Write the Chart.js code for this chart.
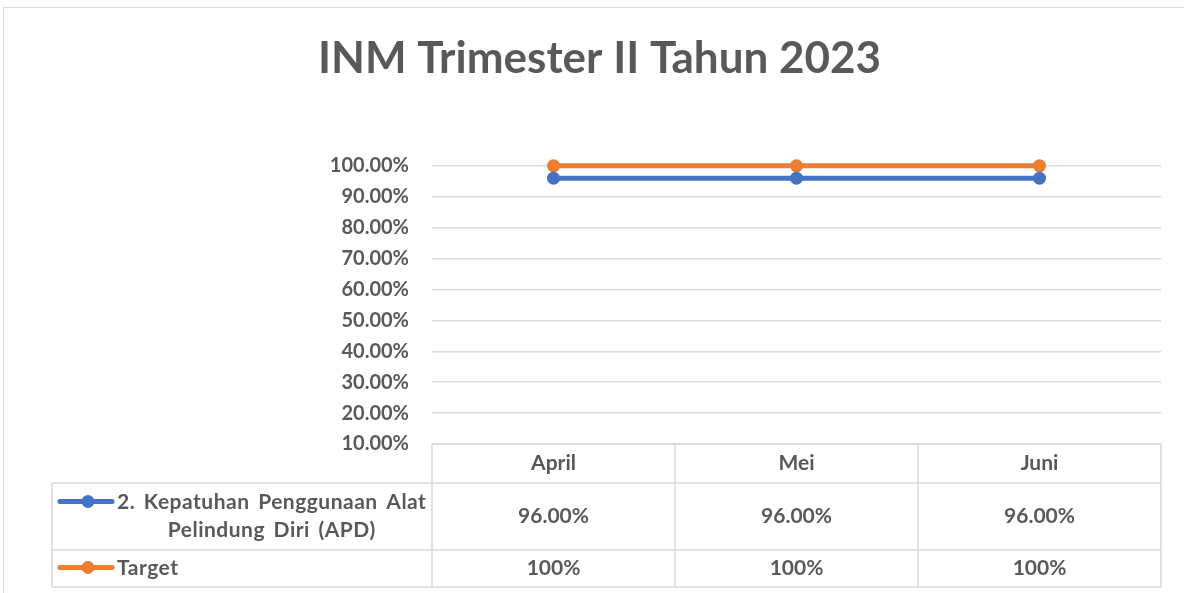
<!DOCTYPE html>
<html>
<head>
<meta charset="utf-8">
<title>INM Trimester II Tahun 2023</title>
<script src="https://cdn.jsdelivr.net/npm/chart.js@4.4.0/dist/chart.umd.min.js"></script>
<style>
    html, body { margin: 0; padding: 0; background: #fff; overflow: hidden; }
    #wrap { position: relative; width: 1184px; height: 593px; }
    #frame { position: absolute; left: 3px; top: 7px; width: 1300px; height: 700px; border: 1px solid #d9d9d9; }
    #chart { position: absolute; left: 0; top: 0; }
</style>
</head>
<body>
<div id="wrap">
    <div id="frame"></div>
    <canvas id="chart" width="1184" height="593"></canvas>
</div>
<script>
const chartTitle = 'INM Trimester II Tahun 2023';
const months = ['April', 'Mei', 'Juni'];
const seriesNames = ['2. Kepatuhan Penggunaan Alat Pelindung Diri (APD)', 'Target'];
const apdValues = [0.96, 0.96, 0.96];
const targetValues = [1, 1, 1];
const valueDecimals = [2, 0];
const seriesColors = ['#4472C4', '#ED7D31'];
const yMin = 0.1, yMax = 1.0, yStep = 0.1;

const textColor = '#595959';
const lineColor = '#d9d9d9';
const fontFamily = 'Lato, "Liberation Sans", sans-serif';

function pct(v, d) {
    return (v * 100).toFixed(d) + '%';
}

function wrapText(ctx, text, maxWidth) {
    const words = text.split(' ');
    const lines = [];
    let line = '';
    words.forEach(function (w) {
        const test = line ? line + ' ' + w : w;
        if (ctx.measureText(test).width > maxWidth && line) {
            lines.push(line);
            line = w;
        } else {
            line = test;
        }
    });
    if (line) lines.push(line);
    return lines;
}

// data table under the plot, Excel style
const dataTable = {
    id: 'dataTable',
    afterDraw: function (chart) {
        const ctx = chart.ctx;
        const area = chart.chartArea;
        const xs = chart.scales.x;
        const n = months.length;
        const colW = (area.right - area.left) / n;
        const tableLeft = 52;
        const rowTops = [area.bottom, area.bottom + 39, area.bottom + 106, area.bottom + 143];
        const allSeries = [apdValues, targetValues];

        ctx.save();
        ctx.strokeStyle = lineColor;
        ctx.lineWidth = 1.5;
        ctx.beginPath();
        ctx.moveTo(area.left, rowTops[0]); ctx.lineTo(area.right, rowTops[0]);
        for (let r = 1; r < rowTops.length; r++) {
            ctx.moveTo(tableLeft, rowTops[r]); ctx.lineTo(area.right, rowTops[r]);
        }
        ctx.moveTo(tableLeft, rowTops[1]); ctx.lineTo(tableLeft, rowTops[3]);
        for (let i = 0; i <= n; i++) {
            const x = area.left + i * colW;
            ctx.moveTo(x, rowTops[0]); ctx.lineTo(x, rowTops[3]);
        }
        ctx.stroke();

        ctx.fillStyle = textColor;
        ctx.font = 'bold 21px ' + fontFamily;
        ctx.textBaseline = 'middle';
        ctx.textAlign = 'center';
        months.forEach(function (m, i) {
            ctx.fillText(m, xs.getPixelForValue(i), (rowTops[0] + rowTops[1]) / 2);
        });

        allSeries.forEach(function (vals, s) {
            const top = rowTops[s + 1], bottom = rowTops[s + 2];
            const mid = (top + bottom) / 2;
            ctx.fillStyle = textColor;
            ctx.textAlign = 'center';
            vals.forEach(function (v, i) {
                ctx.fillText(pct(v, valueDecimals[s]), xs.getPixelForValue(i), mid);
            });

            // series name, a bit looser like the Calibri original
            ctx.save();
            ctx.letterSpacing = '0.5px';
            ctx.wordSpacing = '3px';
            const lines = wrapText(ctx, seriesNames[s], 320);
            const lh = 28;
            const firstY = mid - (lines.length - 1) * lh / 2;
            const textX = 117;
            if (lines.length > 1) {
                const w = Math.max.apply(null, lines.map(function (l) { return ctx.measureText(l).width; }));
                ctx.textAlign = 'center';
                lines.forEach(function (l, k) { ctx.fillText(l, textX + w / 2, firstY + k * lh); });
            } else {
                ctx.textAlign = 'left';
                ctx.fillText(lines[0], textX, firstY);
            }
            ctx.restore();

            // legend key
            const ky = firstY - 1;
            ctx.strokeStyle = seriesColors[s];
            ctx.lineWidth = 5;
            ctx.lineCap = 'round';
            ctx.beginPath();
            ctx.moveTo(60, ky); ctx.lineTo(112, ky);
            ctx.stroke();
            ctx.fillStyle = seriesColors[s];
            ctx.beginPath();
            ctx.arc(88, ky, 6.5, 0, Math.PI * 2);
            ctx.fill();
        });
        ctx.restore();
    }
};

new Chart(document.getElementById('chart'), {
    type: 'line',
    data: {
        labels: months,
        datasets: [{
            label: seriesNames[0],
            data: apdValues,
            borderColor: seriesColors[0],
            backgroundColor: seriesColors[0],
            borderWidth: 5,
            pointRadius: 6.5,
            pointBorderWidth: 0,
            clip: false
        }, {
            label: seriesNames[1],
            data: targetValues,
            borderColor: seriesColors[1],
            backgroundColor: seriesColors[1],
            borderWidth: 5,
            pointRadius: 6.5,
            pointBorderWidth: 0,
            clip: false
        }]
    },
    options: {
        responsive: false,
        animation: false,
        devicePixelRatio: 1,
        layout: {
            padding: { left: 38, right: 23, top: 0, bottom: 149 }
        },
        plugins: {
            legend: { display: false },
            tooltip: { enabled: false },
            title: {
                display: true,
                text: chartTitle,
                color: textColor,
                font: { family: fontFamily, size: 44, weight: 'bold' },
                padding: { top: 32, bottom: 81 }
            }
        },
        scales: {
            x: {
                display: false,
                offset: true
            },
            y: {
                min: yMin,
                max: yMax,
                border: { display: false },
                grid: { color: lineColor, lineWidth: 1.5, drawTicks: false },
                ticks: {
                    stepSize: yStep,
                    padding: 23,
                    color: textColor,
                    font: { family: fontFamily, size: 20, weight: 'bold' },
                    callback: function (v) { return pct(v, 2); }
                },
                afterFit: function (scale) { scale.width = 394; }
            }
        }
    },
    plugins: [dataTable]
});
</script>
</body>
</html>
